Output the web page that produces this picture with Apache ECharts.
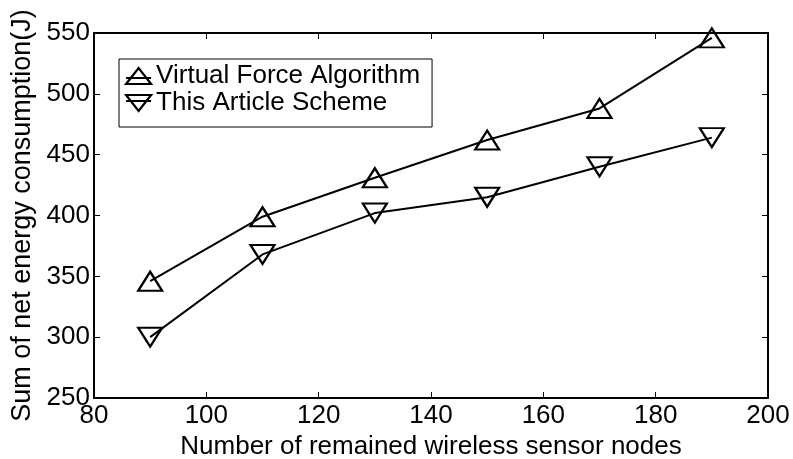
<!DOCTYPE html>
<html><head><meta charset="utf-8">
<script src="https://cdn.jsdelivr.net/npm/echarts@6/dist/echarts.min.js"></script>
<style>html,body{margin:0;padding:0;background:#fff}#c{width:793px;height:459px}</style>
</head><body><div id="c"></div>
<script>
const nodes = [90, 110, 130, 150, 170, 190];
const virtualForce = [346, 399, 431, 462, 488, 546];
const thisScheme = [300, 368, 402, 415, 440, 464];
const seriesNames = ['Virtual Force Algorithm', 'This Article Scheme'];
const xTitle = 'Number of remained wireless sensor nodes';
const yTitle = 'Sum of net energy consumption(J)';

const font = 'Liberation Sans, Arial, sans-serif';
const FS = 26;
const legendIcons = [
  'path://M0,16 L12.5,0 L25,16 Z M0,10 L25,10',
  'path://M0,0 L25,0 L12.5,16 Z M0,6 L25,6'
];
const pair = (xs, ys) => xs.map((x, i) => [x, ys[i]]);
const chart = echarts.init(document.getElementById('c'), null, {renderer: 'canvas'});
const axisLineStyle = {color: '#000', width: 2};
const tick = {show: true, inside: true, length: 6, lineStyle: {color: '#000', width: 1}};
const markStyle = {color: 'rgba(0,0,0,0)', borderColor: '#000', borderWidth: 2.2};
chart.setOption({
  animation: false,
  backgroundColor: '#fff',
  grid: {left: 94, right: 25, top: 33, bottom: 61, containLabel: false, outerBoundsMode: 'none'},
  legend: {
    left: 119, top: 59, orient: 'vertical',
    data: seriesNames.map((n, i) => ({name: n, icon: legendIcons[i]})),
    iconRotate: 0,
    borderColor: '#000', borderWidth: 1, padding: [4, 12, 11, 6],
    itemWidth: 25, itemHeight: 16, itemGap: 1,
    itemStyle: {color: 'rgba(0,0,0,0)', borderColor: '#000', borderWidth: 2.2},
    textStyle: {fontFamily: font, fontSize: FS, color: '#000'}
  },
  xAxis: [{
    type: 'value', min: 80, max: 200, interval: 20,
    name: xTitle, nameLocation: 'middle', nameGap: 31,
    nameTextStyle: {fontFamily: font, fontSize: FS, color: '#000'},
    axisLine: {lineStyle: axisLineStyle},
    axisTick: tick,
    axisLabel: {fontFamily: font, fontSize: FS, color: '#000', margin: 5},
    splitLine: {show: false}
  }, {
    type: 'value', min: 80, max: 200, interval: 20, position: 'top',
    axisLine: {lineStyle: axisLineStyle},
    axisTick: tick,
    axisLabel: {show: false}, splitLine: {show: false}
  }],
  yAxis: [{
    type: 'value', min: 250, max: 550, interval: 50,
    name: yTitle, nameLocation: 'middle', nameGap: 48,
    nameTextStyle: {fontFamily: font, fontSize: 27, color: '#000'},
    axisLine: {show: true, lineStyle: axisLineStyle},
    axisTick: tick,
    axisLabel: {fontFamily: font, fontSize: FS, color: '#000', margin: 4},
    splitLine: {show: false}
  }, {
    type: 'value', min: 250, max: 550, interval: 50, position: 'right',
    axisLine: {show: true, lineStyle: axisLineStyle},
    axisTick: tick,
    axisLabel: {show: false}, splitLine: {show: false}
  }],
  series: [{
    name: seriesNames[0], type: 'line', data: pair(nodes, virtualForce),
    symbol: 'triangle', symbolSize: [24, 19],
    lineStyle: {color: '#000', width: 2},
    itemStyle: markStyle
  }, {
    name: seriesNames[1], type: 'line', data: pair(nodes, thisScheme),
    symbol: 'triangle', symbolSize: [24, 19], symbolRotate: 180,
    lineStyle: {color: '#000', width: 2},
    itemStyle: markStyle
  }]
});
</script></body></html>
